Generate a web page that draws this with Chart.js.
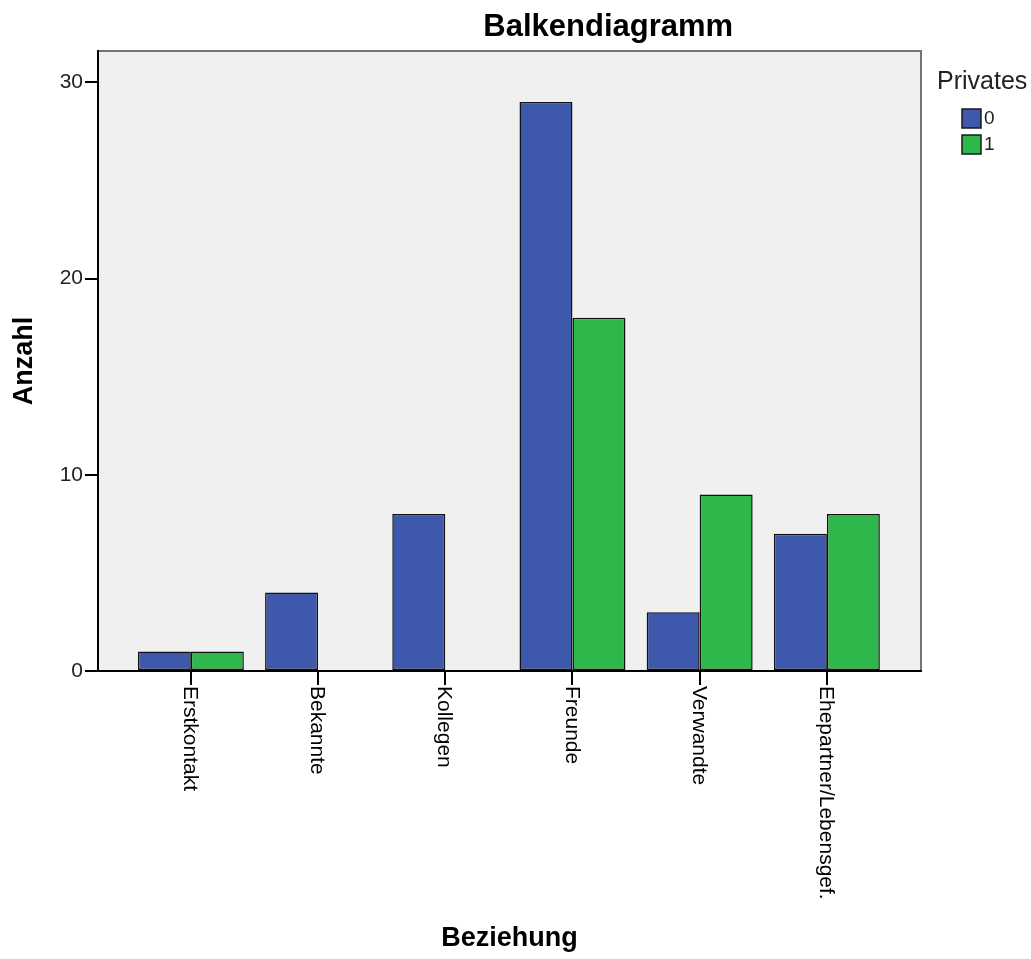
<!DOCTYPE html>
<html>
<head>
<meta charset="utf-8">
<script src="https://cdn.jsdelivr.net/npm/chart.js@4/dist/chart.umd.min.js"></script>
<style>
  html, body { margin: 0; padding: 0; background: #fff; }
  #wrap { width: 1031px; height: 959px; }
</style>
</head>
<body>
<div id="wrap"><canvas id="barChart" width="1031" height="959"></canvas></div>
<script>
// data
const categories = ['Erstkontakt', 'Bekannte', 'Kollegen', 'Freunde', 'Verwandte', 'Ehepartner/Lebensgef.'];
const privates0 = [1, 4, 8, 29, 3, 7];
const privates1 = [1, 0, 0, 18, 9, 8];
const seriesLabels = ['0', '1'];
const yTicks = [0, 10, 20, 30];

const FONT = '"Liberation Sans", Arial, sans-serif';

// grey plot background + frame, title, rotated category labels, legend
const spssLook = {
  id: 'spssLook',
  beforeDraw(chart) {
    const { ctx, chartArea: a } = chart;
    ctx.save();
    ctx.fillStyle = '#f0f0f0';
    ctx.fillRect(a.left, a.top, a.right - a.left, a.bottom - a.top);
    ctx.strokeStyle = '#747474';
    ctx.lineWidth = 2;
    ctx.strokeRect(a.left, a.top, a.right - a.left, a.bottom - a.top);
    ctx.restore();
  },
  afterDraw(chart) {
    const { ctx, chartArea: a } = chart;
    const x = chart.scales.x;
    ctx.save();

    // title
    ctx.fillStyle = '#000';
    ctx.font = 'bold 31px ' + FONT;
    ctx.textAlign = 'center';
    ctx.textBaseline = 'middle';
    ctx.fillText('Balkendiagramm', a.left + (a.right - a.left) * 0.62, 27);

    // category labels, reading top to bottom
    ctx.font = '21px ' + FONT;
    ctx.textAlign = 'left';
    categories.forEach((c, i) => {
      ctx.save();
      ctx.translate(x.getPixelForValue(i) - 1, a.bottom + 15);
      ctx.rotate(Math.PI / 2);
      ctx.fillText(c, 0, 0);
      ctx.restore();
    });

    // legend
    const lx = a.right + 16;
    ctx.font = '25px ' + FONT;
    ctx.fillStyle = '#222';
    ctx.textBaseline = 'alphabetic';
    ctx.fillText('Privates', lx, 89);
    ctx.font = '19px ' + FONT;
    ctx.textBaseline = 'middle';
    chart.data.datasets.forEach((ds, i) => {
      const y = 109 + i * 26;
      ctx.fillStyle = ds.backgroundColor;
      ctx.fillRect(lx + 25, y, 19, 19);
      ctx.strokeStyle = '#1a1a1a';
      ctx.lineWidth = 1.5;
      ctx.strokeRect(lx + 25, y, 19, 19);
      ctx.fillStyle = '#222';
      ctx.fillText(ds.label, lx + 47, y + 10);
    });
    ctx.restore();
  }
};

const ctx = document.getElementById('barChart').getContext('2d');
new Chart(ctx, {
  type: 'bar',
  data: {
    datasets: [
      {
        label: seriesLabels[0],
        data: privates0.map((v, i) => ({ x: i, y: v })),
        backgroundColor: '#3e58ac',
        borderColor: '#111',
        borderWidth: 1.5,
        borderSkipped: false,
        barPercentage: 1.0,
        categoryPercentage: 0.833
      },
      {
        label: seriesLabels[1],
        data: privates1.map((v, i) => ({ x: i, y: v })),
        backgroundColor: '#2eb84b',
        borderColor: '#111',
        borderWidth: 1.5,
        borderSkipped: false,
        barPercentage: 1.0,
        categoryPercentage: 0.833
      }
    ]
  },
  options: {
    responsive: false,
    animation: false,
    layout: { padding: { top: 51, right: 110, left: 0, bottom: 0 } },
    scales: {
      x: {
        type: 'linear',
        offset: false,
        min: -0.73,
        max: 5.74,
        afterBuildTicks: axis => { axis.ticks = categories.map((c, i) => ({ value: i })); },
        afterFit: axis => { axis.height = 288; },
        ticks: { display: false },
        grid: { offset: false, drawOnChartArea: false, drawTicks: true, tickLength: 14, color: '#000', lineWidth: 2 },
        border: { display: true, color: '#000', width: 2 },
        title: {
          display: true,
          text: 'Beziehung',
          color: '#000',
          font: { family: FONT, size: 27, weight: 'bold' },
          padding: { top: 0, bottom: 4 }
        }
      },
      y: {
        min: 0,
        max: 31.6,
        afterBuildTicks: axis => { axis.ticks = yTicks.map(v => ({ value: v })); },
        afterFit: axis => { axis.width = 98; },
        ticks: {
          color: '#222',
          padding: 2,
          font: { family: FONT, size: 21 }
        },
        grid: { drawOnChartArea: false, drawTicks: true, tickLength: 13, color: '#000', lineWidth: 2 },
        border: { display: true, color: '#000', width: 2 },
        title: {
          display: true,
          text: 'Anzahl',
          color: '#000',
          font: { family: FONT, size: 27, weight: 'bold' },
          padding: { top: 8, bottom: 0 }
        }
      }
    },
    plugins: {
      legend: { display: false },
      tooltip: { enabled: false }
    }
  },
  plugins: [spssLook]
});
</script>
</body>
</html>
